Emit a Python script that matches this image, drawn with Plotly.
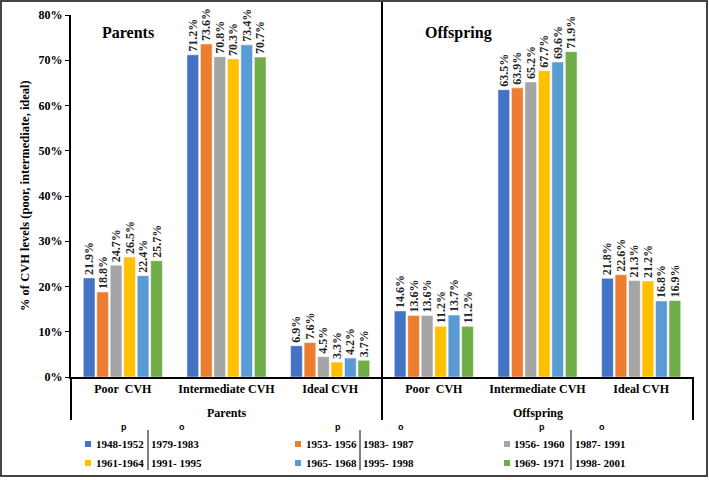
import plotly.graph_objects as go

# ---- data ----
groups = ["Parents", "Offspring"]
levels = ["Poor  CVH", "Intermediate CVH", "Ideal CVH"]
parent_cohorts = ["1948-1952", "1953- 1956", "1956- 1960", "1961-1964", "1965- 1968", "1969- 1971"]
offspring_cohorts = ["1979-1983", "1983- 1987", "1987- 1991", "1991- 1995", "1995- 1998", "1998- 2001"]

# values (%) per cohort: parents poor, intermediate, ideal, offspring poor, intermediate, ideal
cohort1 = [21.9, 71.2, 6.9, 14.6, 63.5, 21.8]
cohort2 = [18.8, 73.6, 7.6, 13.6, 63.9, 22.6]
cohort3 = [24.7, 70.8, 4.5, 13.6, 65.2, 21.3]
cohort4 = [26.5, 70.3, 3.3, 11.2, 67.7, 21.2]
cohort5 = [22.4, 73.4, 4.2, 13.7, 69.6, 16.8]
cohort6 = [25.7, 70.7, 3.7, 11.2, 71.9, 16.9]
series = [cohort1, cohort2, cohort3, cohort4, cohort5, cohort6]

colors = ["#4472C4", "#ED7D31", "#A5A5A5", "#FFC000", "#5B9BD5", "#70AD47"]

W, H = 709, 480
ML, MR, MT, MB = 71, 16, 15, 103
PW, PH = W - ML - MR, H - MT - MB

def px(x):
    return (x - ML) / PW

def py(y):
    return (H - MB - y) / PH

SERIF = "Liberation Serif"

cat_labels = [l for _ in groups for l in levels]
xpos = list(range(len(cat_labels)))

fig = go.Figure()
for i, vals in enumerate(series):
    fig.add_trace(go.Bar(
        x=xpos, y=[v / 100 for v in vals],
        name=f"{parent_cohorts[i]} | {offspring_cohorts[i]}",
        marker=dict(color=colors[i], line=dict(color="white", width=0.5)),
        texttemplate="%{y:.1%}", textposition="outside", textangle=-90,
        constraintext="none", cliponaxis=False,
        textfont=dict(family=SERIF, size=12, color="#262626", weight="bold"),
        showlegend=False,
    ))

shapes = []
annotations = []

# dividers: left, center, right
for xp, ytop in [(0, 0), (0.5, py(2)), (1, 0)]:
    shapes.append(dict(type="line", xref="paper", yref="paper", x0=xp, x1=xp,
                       y0=py(420), y1=ytop, line=dict(color="black", width=2)))

# group labels under categories
for gi, g in enumerate(groups):
    annotations.append(dict(text=g, xref="x", yref="paper", x=gi * len(levels) + (len(levels) - 1) / 2,
                            y=py(413), showarrow=False, xanchor="center", yanchor="middle",
                            font=dict(family=SERIF, size=12, color="black", weight="bold")))

# panel titles
annotations.append(dict(text="Parents", xref="paper", yref="paper", x=px(128), y=py(32),
                        showarrow=False, xanchor="center", yanchor="middle",
                        font=dict(family=SERIF, size=16, color="black", weight="bold")))
annotations.append(dict(text="Offspring", xref="paper", yref="paper", x=px(458), y=py(33),
                        showarrow=False, xanchor="center", yanchor="middle",
                        font=dict(family=SERIF, size=16, color="black", weight="bold")))

# y axis title
annotations.append(dict(text="% of CVH levels (poor, intermediate, ideal)", xref="paper", yref="paper",
                        x=px(25), y=py(196), showarrow=False, textangle=-90,
                        xanchor="center", yanchor="middle",
                        font=dict(family=SERIF, size=12.5, color="black", weight="bold")))

# custom legend
marker_x = [88, 298, 507]
text_x = [94, 304, 512]
div_x = [148, 360, 571]
o_x = [149, 361, 573]
p_hdr = [124, 338, 542]
o_hdr = [182, 401, 602]
row_y = [444, 463]
for c in range(3):
    annotations.append(dict(text="p", xref="paper", yref="paper", x=px(p_hdr[c]), y=py(427),
                            showarrow=False, xanchor="center", yanchor="middle",
                            font=dict(family="Liberation Sans", size=9, color="black", weight="bold")))
    annotations.append(dict(text="o", xref="paper", yref="paper", x=px(o_hdr[c]), y=py(427),
                            showarrow=False, xanchor="center", yanchor="middle",
                            font=dict(family="Liberation Sans", size=9, color="black", weight="bold")))
    shapes.append(dict(type="line", xref="paper", yref="paper", x0=px(div_x[c]), x1=px(div_x[c]),
                       y0=py(470), y1=py(430), line=dict(color="black", width=1)))
for i in range(6):
    r, c = divmod(i, 3)
    yy = row_y[r]
    shapes.append(dict(type="rect", xref="paper", yref="paper",
                       x0=px(marker_x[c] - 3), x1=px(marker_x[c] + 3),
                       y0=py(yy + 3), y1=py(yy - 3),
                       fillcolor=colors[i], line=dict(width=0)))
    annotations.append(dict(text=parent_cohorts[i], xref="paper", yref="paper", x=px(text_x[c]), y=py(yy),
                            showarrow=False, xanchor="left", yanchor="middle",
                            font=dict(family=SERIF, size=11, color="black", weight="bold")))
    annotations.append(dict(text=offspring_cohorts[i], xref="paper", yref="paper", x=px(o_x[c]), y=py(yy),
                            showarrow=False, xanchor="left", yanchor="middle",
                            font=dict(family=SERIF, size=11, color="black", weight="bold")))

# outer border
shapes.append(dict(type="rect", xref="paper", yref="paper", x0=px(1), x1=px(707),
                   y0=py(476), y1=py(1), line=dict(color="#444444", width=2)))

fig.update_layout(
    width=W, height=H,
    margin=dict(l=ML, r=MR, t=MT, b=MB, autoexpand=False),
    paper_bgcolor="white", plot_bgcolor="white",
    barmode="group", bargap=0.22, bargroupgap=0.13,
    shapes=shapes, annotations=annotations,
    xaxis=dict(
        range=[-0.5, len(cat_labels) - 0.5], tickmode="array", tickvals=xpos, ticktext=cat_labels,
        tickangle=0, automargin=False,
        showline=True, linecolor="black", linewidth=2, showgrid=False, zeroline=False, ticks="",
        tickfont=dict(family=SERIF, size=12, color="black", weight="bold"),
    ),
    yaxis=dict(
        range=[0, 0.8], tickformat=".0%", dtick=0.1, showgrid=False, zeroline=False, automargin=False,
        showline=True, linecolor="black", linewidth=2, ticks="outside", ticklen=4,
        tickcolor="black", tickfont=dict(family=SERIF, size=12, color="black", weight="bold"),
    ),
)

fig.write_html("out.html", config={"displayModeBar": False},
               post_script="document.body.style.margin='0';")
